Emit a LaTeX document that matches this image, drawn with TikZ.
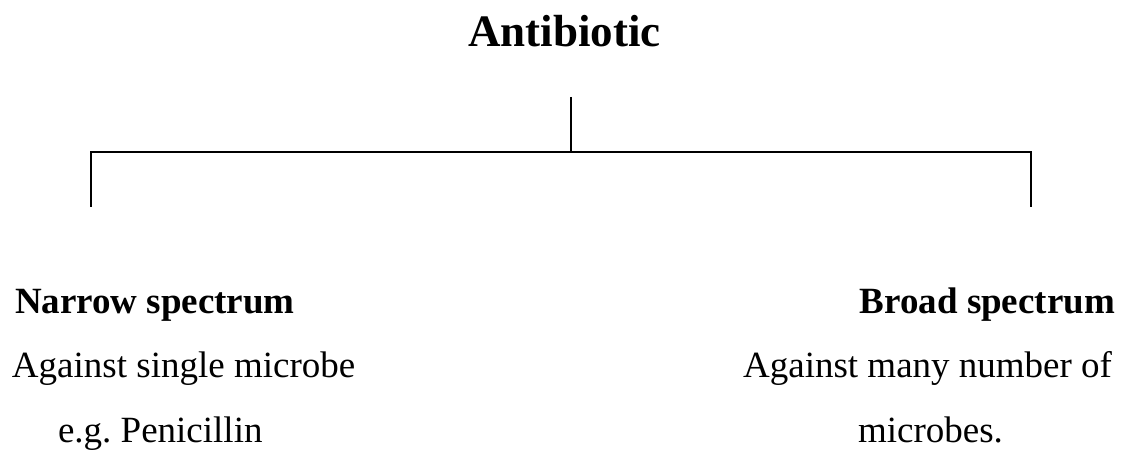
\documentclass[tikz,border=0pt]{standalone}
\usepackage{fontspec}
\setmainfont{Liberation Serif}
\frenchspacing
\begin{document}
\begin{tikzpicture}[x=1pt,y=-1pt,
  txt/.style={inner sep=0pt,outer sep=0pt,font=\fontsize{37}{44}\selectfont},
  head/.style={txt,font=\fontsize{37}{44}\selectfont\bfseries},
  ttl/.style={inner sep=0pt,outer sep=0pt,font=\fontsize{45}{54}\selectfont\bfseries},
  conn/.style={line width=2pt}]
\useasboundingbox (0,0) rectangle (1129,462);
\node[ttl,anchor=base west] (title) at (468,47) {Antibiotic};
\coordinate (top) at (571,97);
\coordinate (mid) at (571,152);
\coordinate (L) at (91,152);
\coordinate (R) at (1031,152);
\coordinate (Lb) at (91,207);
\coordinate (Rb) at (1031,207);
\draw[conn] (top) -- (mid);
\draw[conn] (Lb) -- (L) -- (R) -- (Rb);
\node[head,anchor=base west] (nhead) at (15,313) {Narrow spectrum};
\node[txt,anchor=base west] (n1) at (12,377) {Against single microbe};
\node[txt,anchor=base west] (n2) at (58,442) {e.g.\ Penicillin};
\node[head,anchor=base east] (bhead) at (1115,313) {Broad spectrum};
\node[txt,anchor=base east] (b1) at (1112,377) {Against many number of};
\node[txt,anchor=base west] (b2) at (858,442) {microbes.};
\end{tikzpicture}
\end{document}
